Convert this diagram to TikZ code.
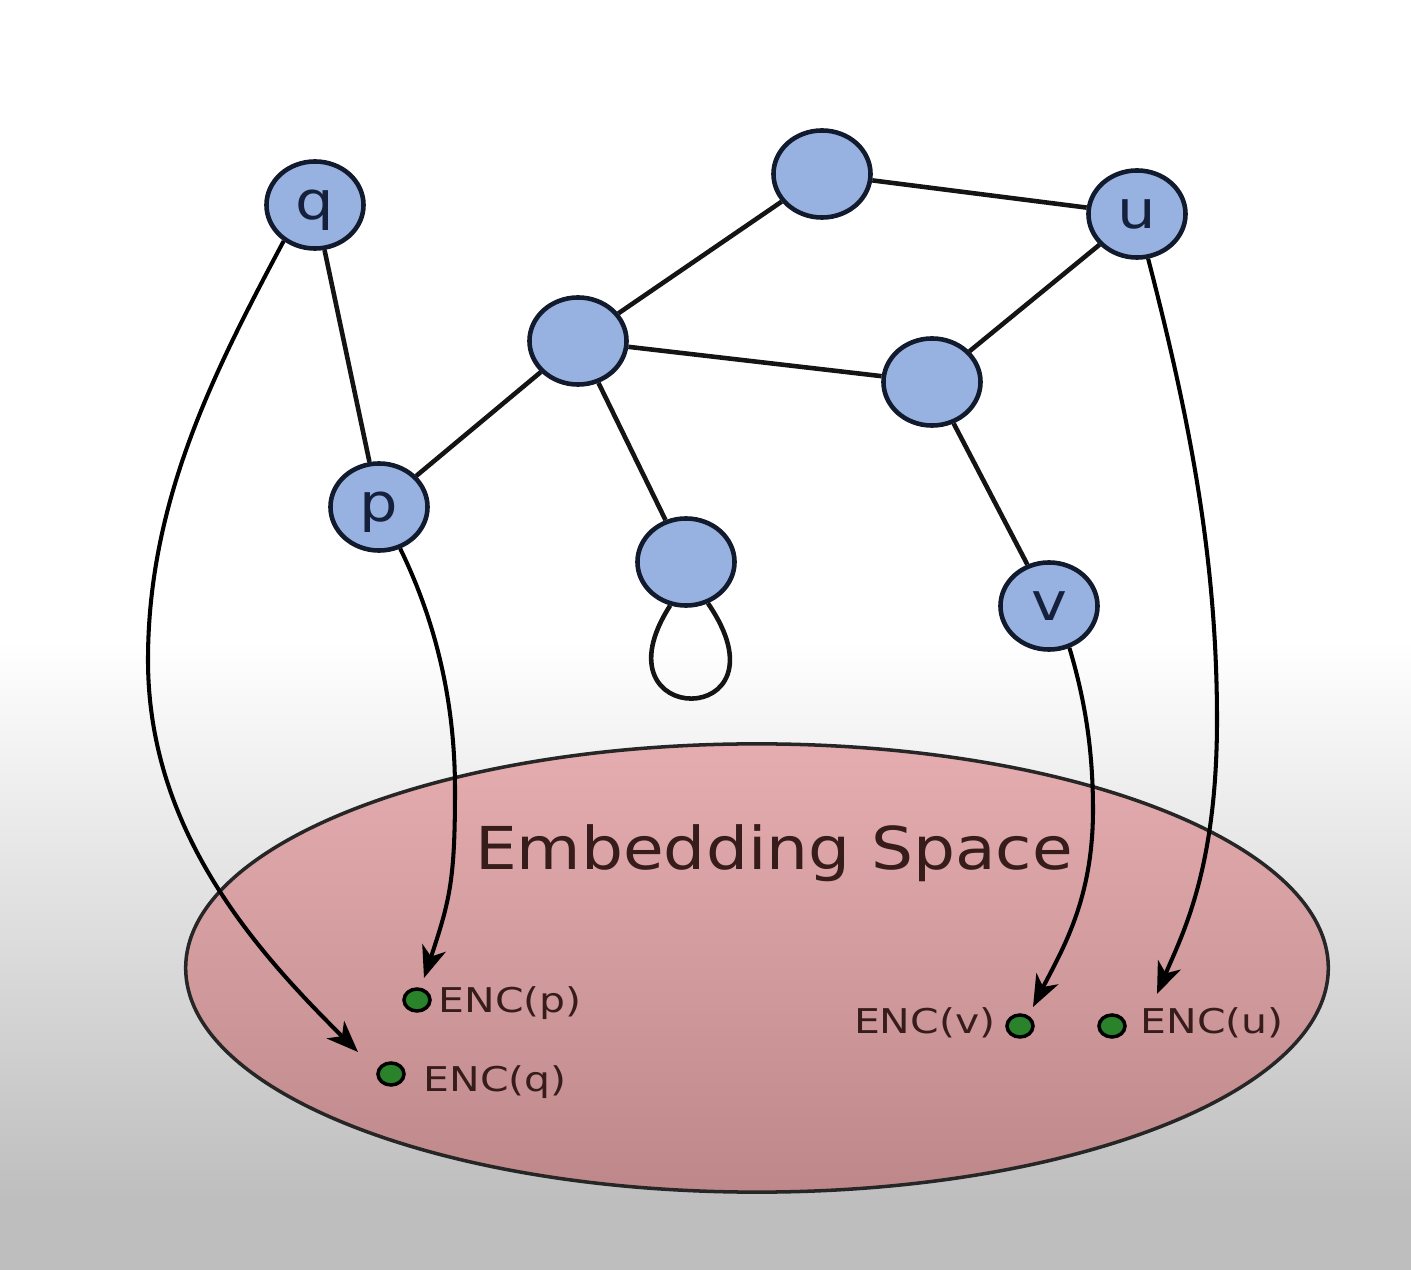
\documentclass[tikz,border=0pt]{standalone}
\usepackage{fontspec}
\usepackage{graphicx}
\setmainfont{DejaVu Sans}
\usetikzlibrary{shapes.geometric,arrows.meta}
\definecolor{nodefill}{RGB}{151,178,224}
\definecolor{nodeline}{RGB}{18,26,45}
\definecolor{lettercol}{RGB}{20,32,60}
\definecolor{pinktop}{RGB}{229,173,176}
\definecolor{pinkbot}{RGB}{190,136,138}
\definecolor{bggray}{RGB}{190,190,190}
\definecolor{txtcol}{RGB}{55,28,28}
\definecolor{dotgreen}{RGB}{42,130,42}
\begin{document}
\begin{tikzpicture}[x=0.01cm,y=-0.01cm,
  gnode/.style={ellipse,draw=nodeline,line width=1.3pt,fill=nodefill,
    minimum width=0.97cm,minimum height=0.87cm,inner sep=0pt,text=lettercol,
    font=\fontsize{15}{15}\selectfont,text height=8.2pt,text depth=0pt},
  edge/.style={line width=1.3pt,draw=black!92},
  mapto/.style={line width=1.15pt,draw=black,-{Stealth[length=9pt,width=7pt,inset=2.6pt]}},
  encdot/.style={ellipse,draw=black,line width=1pt,fill=dotgreen,
    minimum width=0.26cm,minimum height=0.22cm,inner sep=0pt},
  enclabel/.style={text=txtcol,inner sep=0pt,font=\fontsize{9.7}{10}\selectfont},
  spacebox/.style={ellipse,draw=black!85,line width=1pt,top color=pinktop,bottom color=pinkbot,
    minimum width=11.42cm,minimum height=4.48cm,inner sep=0pt},
]
% background
\fill[white] (0,0) rectangle (1411,1270);
\shade[top color=white,bottom color=bggray] (0,640) rectangle (1411,1200);
\fill[bggray] (0,1199) rectangle (1411,1270);
\useasboundingbox (0,0) rectangle (1411,1270);

% embedding space
\node[spacebox] (space) at (757,968) {};
\node[anchor=base,text=txtcol,inner sep=0pt,font=\fontsize{16.8}{17}\selectfont] (title) at (774,870) {\scalebox{1.12}[1]{Embedding Space}};

% encodings
\node[encdot] (dp) at (417,1000) {};
\node[encdot] (dq) at (391,1074) {};
\node[encdot] (dv) at (1020,1026) {};
\node[encdot] (du) at (1112,1026) {};
\node[enclabel,anchor=base west] (lp) at (438,1013) {\scalebox{1.2}[1]{ENC(p)}};
\node[enclabel,anchor=base west] (lq) at (423,1092) {\scalebox{1.2}[1]{ENC(q)}};
\node[enclabel,anchor=base east] (lv) at (996,1034) {\scalebox{1.2}[1]{ENC(v)}};
\node[enclabel,anchor=base west] (lu) at (1140,1034) {\scalebox{1.2}[1]{ENC(u)}};
\coordinate (tq) at (358,1052);
\coordinate (tp) at (424,978);
\coordinate (tv) at (1033,1007);
\coordinate (tu) at (1157,994);

% graph
\node[gnode] (q) at (315,205) {\scalebox{1.15}[1]{q}};
\node[gnode] (T) at (822,174) {};
\node[gnode] (u) at (1137,214) {\scalebox{1.15}[1]{u}};
\node[gnode] (C) at (578,341) {};
\node[gnode] (R) at (932,382) {};
\node[gnode] (p) at (379,507) {\scalebox{1.15}[1]{p}};
\node[gnode] (B) at (686,562) {};
\node[gnode] (v) at (1049,606) {\scalebox{1.15}[1]{v}};

\draw[edge] (q) -- (p);
\draw[edge] (p) -- (C);
\draw[edge] (C) -- (T);
\draw[edge] (T) -- (u);
\draw[edge] (C) -- (R);
\draw[edge] (R) -- (u);
\draw[edge] (C) -- (B);
\draw[edge] (R) -- (v);
\draw[edge] (B.250) .. controls (590,730) and (795,730) .. (B.298);

% mappings
\draw[mapto] (q.229) .. controls (215,370) and (148,500) .. (148,660) .. controls (148,830) and (255,950) .. (tq);
\draw[mapto] (p.297) .. controls (435,620) and (455,700) .. (455,790) .. controls (455,880) and (450,900) .. (tp);
\draw[mapto] (v.296) .. controls (1085,700) and (1093,750) .. (1093,810) .. controls (1093,900) and (1062,950) .. (tv);
\draw[mapto] (u.284) .. controls (1190,420) and (1217,560) .. (1217,720) .. controls (1217,870) and (1182,935) .. (tu);
\end{tikzpicture}
\end{document}
